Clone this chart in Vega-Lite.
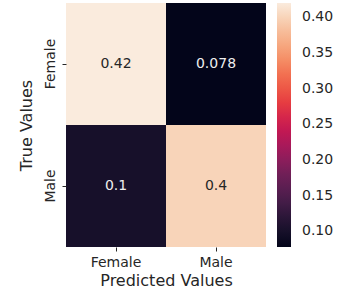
{
  "$schema": "https://vega.github.io/schema/vega-lite/v6.json",
  "autosize": {"type": "none"},
  "width": 200,
  "height": 244,
  "padding": {"left": 66, "top": 3, "right": 71, "bottom": 53},
  "background": "white",
  "config": {
    "view": {"stroke": null},
    "font": "DejaVu Sans",
    "axis": {"labelFont": "DejaVu Sans", "titleFont": "DejaVu Sans", "labelColor": "#262626", "titleColor": "#262626", "titleFontWeight": "normal", "domain": false, "grid": false, "tickColor": "#262626", "tickSize": 4, "tickWidth": 1},
    "legend": {"labelFont": "DejaVu Sans", "labelColor": "#262626"}
  },
  "data": {
    "values": [
      {"true": "Female", "pred": "Female", "value": 0.42, "label": "0.42"},
      {"true": "Female", "pred": "Male", "value": 0.078, "label": "0.078"},
      {"true": "Male", "pred": "Female", "value": 0.1, "label": "0.1"},
      {"true": "Male", "pred": "Male", "value": 0.4, "label": "0.4"}
    ]
  },
  "encoding": {
    "x": {
      "field": "pred", "type": "nominal", "sort": ["Female", "Male"],
      "scale": {"paddingInner": 0, "paddingOuter": 0},
      "axis": {"title": "Predicted Values", "labelAngle": 0, "labelFontSize": 14, "titleFontSize": 16, "labelPadding": 4, "titlePadding": 3}
    },
    "y": {
      "field": "true", "type": "nominal", "sort": ["Female", "Male"],
      "scale": {"paddingInner": 0, "paddingOuter": 0},
      "axis": {"title": "True Values", "labelAngle": -90, "labelAlign": "center", "labelBaseline": "bottom", "labelFontSize": 14, "titleFontSize": 16, "labelPadding": 5, "titlePadding": 9}
    }
  },
  "layer": [
    {
      "mark": {"type": "rect"},
      "encoding": {
        "color": {
          "field": "value", "type": "quantitative",
          "scale": {
            "type": "linear", "zero": false, "nice": false,
            "domain": [0.078, 0.1122, 0.1464, 0.1806, 0.2148, 0.249, 0.2832, 0.3174, 0.3516, 0.3858, 0.42],
            "range": ["#03051A", "#221331", "#4C1D4B", "#711F57", "#A11A5B", "#CB1B4F", "#E83F3F", "#F26C4F", "#F69C73", "#F7C2A2", "#FAEBDD"]
          },
          "legend": {
            "title": null, "orient": "right", "offset": 11, "padding": 0,
            "gradientLength": 244, "gradientThickness": 14, "gradientStrokeWidth": 0,
            "values": [0.1, 0.15, 0.2, 0.25, 0.3, 0.35, 0.4], "format": ".2f",
            "labelFontSize": 14, "labelOffset": 11, "labelOverlap": false
          }
        }
      }
    },
    {
      "mark": {"type": "text", "fontSize": 14, "font": "DejaVu Sans"},
      "encoding": {
        "text": {"field": "label"},
        "color": {
          "condition": {"test": "datum.value > 0.25", "value": "#262626"},
          "value": "#EEEEEE"
        }
      }
    }
  ]
}
